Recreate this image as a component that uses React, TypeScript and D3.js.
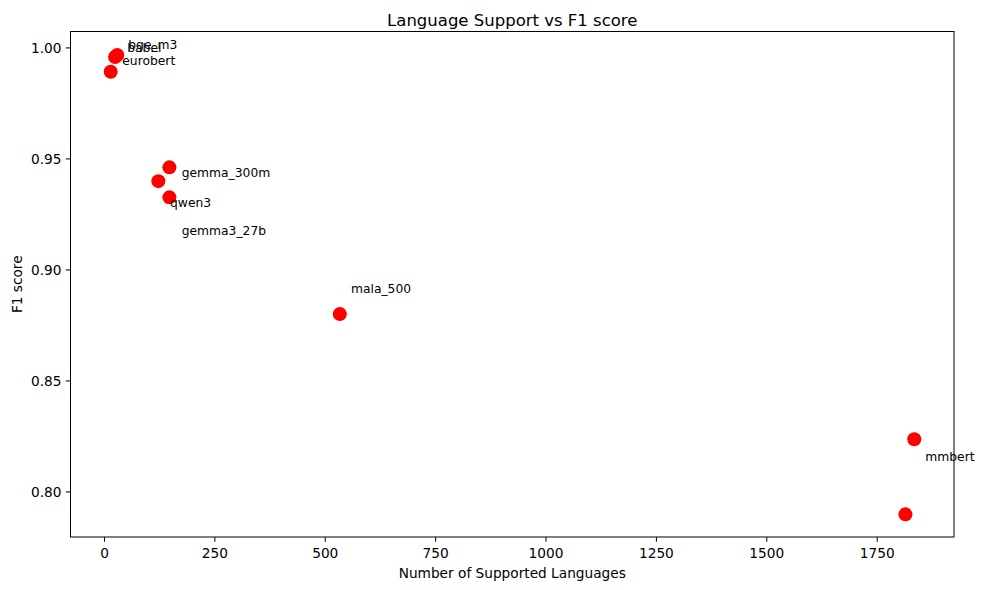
import * as d3 from 'd3';

// model names, number of supported languages, F1 score
const models = ['eurobert', 'babel', 'bge_m3', 'gemma_300m', 'gemma3_27b', 'qwen3', 'mala_500', 'mmbert', 'unnamed'];
const languages = [14, 24, 29, 147, 122, 147, 533, 1834, 1814];
const f1Scores = [0.9893, 0.9959, 0.9968, 0.9462, 0.94, 0.9327, 0.8801, 0.8237, 0.7899];

// annotation text positions (data coords), as placed in the original
const labelNames = ['bge_m3', 'babel', 'eurobert', 'gemma_300m', 'qwen3', 'gemma3_27b', 'mala_500', 'mmbert'];
const labelX = [53.9, 51.6, 40.3, 174.9, 148.4, 174.9, 558.3, 1859];
const labelY = [1.0013, 1.0001, 0.994, 0.9438, 0.9303, 0.9177, 0.8914, 0.8159];

const xTicks = [0, 250, 500, 750, 1000, 1250, 1500, 1750];
const yTicks = [0.8, 0.85, 0.9, 0.95, 1.0];

const W = 985;
const H = 590;
const FONT = 'DejaVu Sans, sans-serif';

const App = () => {
  const left = 70.5;
  const right = 954;
  const top = 31.5;
  const bottom = 537;

  const x = d3.scaleLinear().domain([-77, 1924]).range([left, right]);
  const y = d3.scaleLinear().domain([0.7797, 1.0074]).range([bottom, top]);

  return (
    <svg width={W} height={H} style={{ position: 'absolute', left: 0, top: 0, background: '#fff' }} fontFamily={FONT}>
      <rect x={0} y={0} width={W} height={H} fill='#fff' />
      <text x={(left + right) / 2} y={20} fontSize={16.5} textAnchor='middle' dominantBaseline='central'>
        Language Support vs F1 score
      </text>

      {/* points */}
      {models.map((m, i) => (
        <circle key={m} cx={x(languages[i])} cy={y(f1Scores[i])} r={7} fill='red' />
      ))}

      {/* annotations */}
      {labelNames.map((n, i) => (
        <text key={n} x={x(labelX[i])} y={y(labelY[i])} fontSize={12.3} dominantBaseline='central' fill='#000'>
          {n}
        </text>
      ))}

      {/* frame */}
      <rect x={left} y={top} width={right - left} height={bottom - top} fill='none' stroke='#000' strokeWidth={1} />

      {/* x axis */}
      {xTicks.map((t) => (
        <g key={t} transform={`translate(${x(t)},${bottom})`}>
          <line y2={4.8} stroke='#000' />
          <text y={16} fontSize={13.7} textAnchor='middle' dominantBaseline='central'>
            {t}
          </text>
        </g>
      ))}
      <text x={(left + right) / 2} y={573} fontSize={13.7} textAnchor='middle' dominantBaseline='central'>
        Number of Supported Languages
      </text>

      {/* y axis */}
      {yTicks.map((t) => (
        <g key={t} transform={`translate(${left},${y(t)})`}>
          <line x2={-4.8} stroke='#000' />
          <text x={-9} fontSize={13.7} textAnchor='end' dominantBaseline='central'>
            {d3.format('.2f')(t)}
          </text>
        </g>
      ))}
      <text
        transform={`translate(17,${(top + bottom) / 2}) rotate(-90)`}
        fontSize={13.7}
        textAnchor='middle'
        dominantBaseline='central'
      >
        F1 score
      </text>
    </svg>
  );
};

export default App;
